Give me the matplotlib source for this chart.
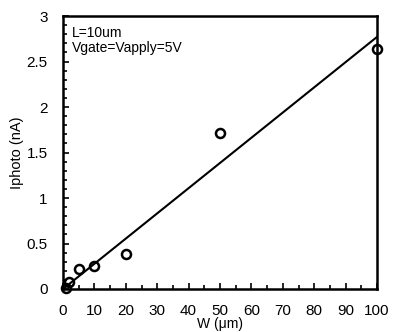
import matplotlib
matplotlib.use("Agg")
import matplotlib.pyplot as plt
from matplotlib.ticker import MultipleLocator

plt.rcParams['font.family'] = ['Liberation Sans', 'DejaVu Sans']

w_um = [1, 2, 5, 10, 20, 50, 100]
iphoto_nA = [0.015, 0.08, 0.22, 0.25, 0.39, 1.71, 2.64]
fit_x = [0, 100]
fit_y = [0, 2.77]

fig = plt.figure(figsize=(3.93, 3.32), dpi=100)
ax = fig.add_axes([63/393, 1-289/332, (377-63)/393, (289-16)/332])

ax.plot(fit_x, fit_y, color='black', lw=1.5, zorder=2)
ax.plot(w_um, iphoto_nA, linestyle='none', marker='o', markersize=6.5,
        markerfacecolor='none', markeredgecolor='black', markeredgewidth=1.8,
        zorder=3, clip_on=False)

ax.set_xlim(0, 100)
ax.set_ylim(0, 3)
ax.xaxis.set_major_locator(MultipleLocator(10))
ax.xaxis.set_minor_locator(MultipleLocator(5))
ax.yaxis.set_major_locator(MultipleLocator(0.5))
ax.yaxis.set_minor_locator(MultipleLocator(0.1))
ax.tick_params(which='both', direction='in', top=False, right=False,
               width=1.2, labelsize=11)
ax.tick_params(which='major', length=4)
ax.tick_params(which='minor', length=3)
ax.tick_params(axis='x', pad=11)
ax.tick_params(axis='y', pad=11)
ax.set_yticks([0, 0.5, 1, 1.5, 2, 2.5, 3])
ax.set_yticklabels(['0', '0.5', '1', '1.5', '2', '2.5', '3'])
for s in ax.spines.values():
    s.set_linewidth(1.8)

ax.set_xlabel('W (μm)', fontsize=10, labelpad=-1)
ax.set_ylabel('Iphoto (nA)', fontsize=10.5, labelpad=2)

ax.text(0.029, 0.965, 'L=10um\nVgate=Vapply=5V', transform=ax.transAxes,
        ha='left', va='top', fontsize=10, linespacing=1.1)

fig.savefig('out.png', dpi=100)
